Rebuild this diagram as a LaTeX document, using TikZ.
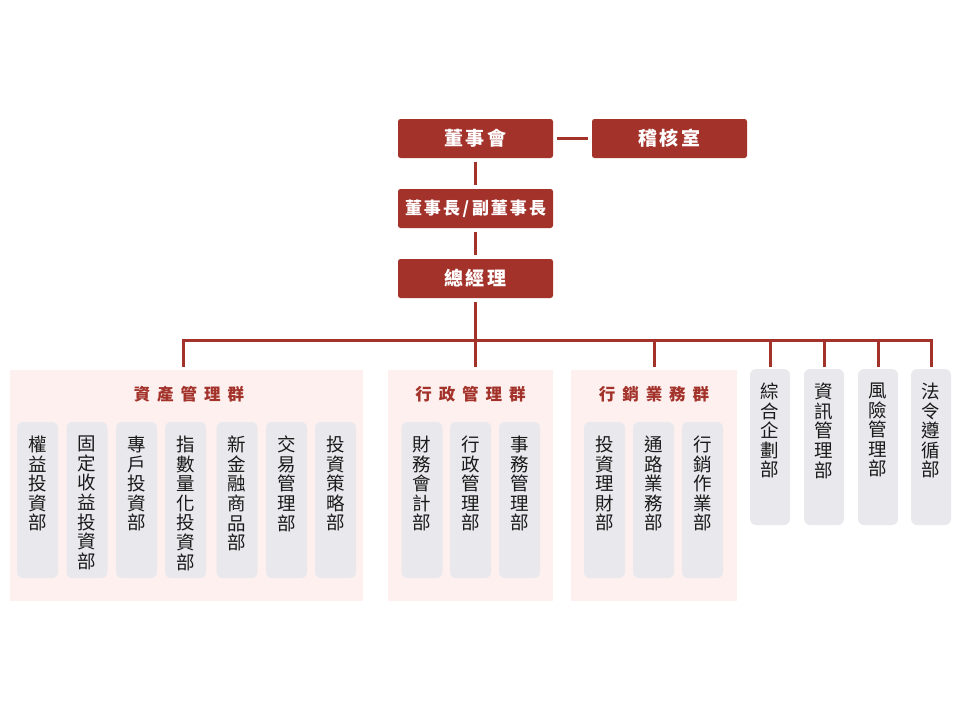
\documentclass[tikz,border=0pt]{standalone}
\usepackage{fontspec}
\setmainfont{Noto Sans CJK TC}
\newfontfamily\cjk{Noto Sans CJK TC}
\definecolor{dred}{HTML}{A3322B}
\definecolor{grpbg}{HTML}{FDF0EE}
\definecolor{deptbg}{HTML}{E9E9ED}
\definecolor{txt}{HTML}{1A1A1A}
\newcommand\gpa{\kern2.5pt}
\newcommand\gpb{\kern2pt}
\newcommand\slashbox{\makebox[12pt]{/}}
\newcommand\gpc{\kern7pt}
\tikzset{
  topbox/.style={draw=none, fill=dred, rounded corners=2.5pt, minimum width=155pt, minimum height=39pt, inner sep=0pt, text=white, font=\cjk\fontsize{19pt}{21pt}\selectfont\bfseries},
  grpbox/.style={draw=none, fill=grpbg, minimum height=231pt, inner sep=0pt},
  grptitle/.style={text=dred, inner sep=0pt, font=\cjk\fontsize{16.5pt}{19pt}\selectfont\bfseries},
  deptbox/.style={draw=none, fill=deptbg, rounded corners=6pt, minimum width=41pt, minimum height=156pt, inner sep=0pt},
  depttext/.style={anchor=north, inner sep=0pt, align=center, text=txt, font=\cjk\fontsize{18.5pt}{19.6pt}\selectfont},
  conn/.style={draw=dred, line width=3pt},
  gap/.style={shorten >=3.5pt, shorten <=3.5pt},
}
\begin{document}
\begin{tikzpicture}[x=1pt,y=-1pt]
\useasboundingbox (0,0) rectangle (960,720);
% top chain
\node[topbox] (board) at (475.5,138.5) {董\gpa 事\gpa 會};
\node[topbox] (audit) at (669.5,138.5) {稽\gpa 核\gpa 室};
\node[topbox, font=\cjk\fontsize{17pt}{19pt}\selectfont\bfseries] (chair) at (475.5,208.5) {董\gpb 事\gpb 長\slashbox 副\gpb 董\gpb 事\gpb 長};
\node[topbox] (gm) at (475.5,278.5) {總\gpa 經\gpa 理};
\draw[conn, gap] (board) -- (audit);
\draw[conn, gap] (board) -- (chair);
\draw[conn, gap] (chair) -- (gm);
% groups
\node[grpbox, minimum width=353pt] (ga) at (186.5,485.5) {};
\node[grpbox, minimum width=165pt] (gb) at (470.5,485.5) {};
\node[grpbox, minimum width=166pt] (gc) at (654,485.5) {};
\node[grptitle] (ta) at (189,394) {資\gpc 產\gpc 管\gpc 理\gpc 群};
\node[grptitle] (tb) at (470.5,394) {行\gpc 政\gpc 管\gpc 理\gpc 群};
\node[grptitle] (tc) at (654,394) {行\gpc 銷\gpc 業\gpc 務\gpc 群};
% standalone depts
\foreach \n/\x/\t in {r1/770/綜\\合\\企\\劃\\部, r2/824/資\\訊\\管\\理\\部, r3/878/風\\險\\管\\理\\部, r4/931/法\\令\\遵\\循\\部}{
  \node[deptbox, minimum width=40pt] (\n) at (\x,447) {};
  \node[depttext] (\n t) at ([yshift=-14pt]\n.north) {\t};
}
% inner depts
\foreach \n/\x/\t in {a1/37.5/權\\益\\投\\資\\部, a2/87/固\\定\\收\\益\\投\\資\\部, a3/136.5/專\\戶\\投\\資\\部, a4/185.5/指\\數\\量\\化\\投\\資\\部, a5/237/新\\金\\融\\商\\品\\部, a6/286.5/交\\易\\管\\理\\部, a7/335.5/投\\資\\策\\略\\部, b1/422/財\\務\\會\\計\\部, b2/470.5/行\\政\\管\\理\\部, b3/519.5/事\\務\\管\\理\\部, c1/604.5/投\\資\\理\\財\\部, c2/653.5/通\\路\\業\\務\\部, c3/702.5/行\\銷\\作\\業\\部}{
  \node[deptbox] (\n) at (\x,500) {};
  \node[depttext] (\n t) at ([yshift=-14pt]\n.north) {\t};
}
% bus
\coordinate (busmid) at (475.5,340);
\coordinate (busA) at (183,340);
\coordinate (busC) at (654,340);
\coordinate (busE) at (931,340);
\draw[conn, shorten <=3.5pt] (gm.south) -- (busmid);
\draw[conn, line cap=rect] (busA) -- (busE);
\draw[conn, shorten >=3pt] (busA) -- (busA |- ga.north);
\draw[conn, shorten >=3pt] (busmid) -- (busmid |- gb.north);
\draw[conn, shorten >=3pt] (busC) -- (gc.north);
\foreach \n in {r1,r2,r3,r4}{
  \draw[conn, shorten >=2pt] (busA -| \n.north) -- (\n.north);
}
\end{tikzpicture}
\end{document}
